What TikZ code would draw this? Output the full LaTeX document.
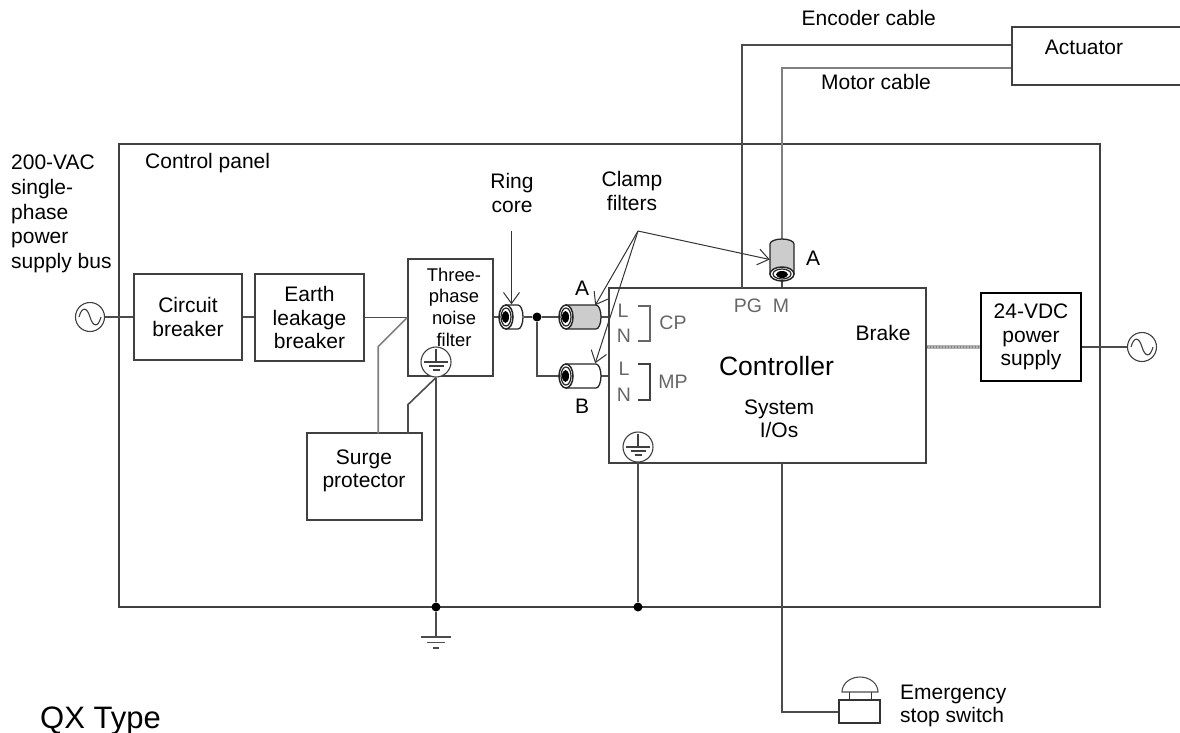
\documentclass[tikz,border=0pt]{standalone}
\usepackage{fontspec}
\setmainfont{Liberation Sans}
\usetikzlibrary{arrows.meta,positioning,calc}
\definecolor{wire}{gray}{0.3}
\definecolor{boxline}{gray}{0.25}
\definecolor{portgray}{gray}{0.4}
\tikzset{
  lbl/.style={inner sep=0pt, align=center, font=\fontsize{21}{23.5}\selectfont},
  lblsmall/.style={inner sep=0pt, align=center, font=\fontsize{18.4}{21.7}\selectfont},
  port/.style={inner sep=0pt, text=portgray, font=\fontsize{19.5}{22}\selectfont},
  box/.style={draw=boxline, line width=1.5pt, inner sep=0pt},
  slot/.style={inner sep=0pt, minimum width=#1, minimum height=25pt},
  wirestyle/.style={draw=wire, line width=1.6pt},
  leader/.style={draw=black!80, line width=1pt, -{Straight Barb[length=11pt,width=16pt]}},
  dotnode/.style={circle, fill=black, inner sep=0pt, minimum size=9pt},
  roundmark/.style={circle, draw=black!75, line width=1.1pt, fill=white, inner sep=0pt, minimum size=#1},
  pics/core/.style n args={2}{code={
    \draw[draw=black!85, line width=1.3pt, fill=#2] (0,-12) -- (#1-5,-12) arc (-90:90:5 and 12) -- (0,12) -- cycle;
    \draw[draw=black!85, line width=1.5pt, fill=white] (0,0) ellipse (7 and 12);
    \draw[draw=black!85, line width=1.2pt, fill=white] (0,0) ellipse (5 and 9);
    \fill[black] (-0.5,0) ellipse (3.5 and 6);
  }},
  pics/acwave/.style={code={
    \draw[black!75, line width=1.1pt] (-11,0) .. controls (-8,-11) and (-3,-10) .. (0,0) .. controls (3,10) and (8,11) .. (11,0);
  }},
  pics/earthmark/.style={code={
    \draw[black!75, line width=1.1pt] (0,-13) -- (0,0);
    \draw[black!75, line width=1.1pt] (-12,0) -- (12,0) (-7.5,4) -- (7.5,4) (-3.5,8) -- (3.5,8);
  }},
}
\begin{document}
\begin{tikzpicture}[x=1pt,y=-1pt]
  \useasboundingbox (0,0) rectangle (1180,732);
  % Panel and boxes
  \node[box, minimum width=981pt, minimum height=463pt] (panel) at (609.5,375.5) {};
  \node[box, minimum width=108pt, minimum height=86pt, lbl] (breaker) at (188,317) {Circuit\\breaker};
  \node[box, minimum width=109pt, minimum height=87pt, lbl] (leakage) at (309.5,317.5) {Earth\\leakage\\breaker};
  \node[box, minimum width=85pt, minimum height=117pt] (filter) at (450.5,317.5) {};
  \node[box, minimum width=115pt, minimum height=87pt] (surge) at (364.5,476.5) {};
  \node[box, minimum width=317pt, minimum height=175pt] (ctrl) at (767.5,375.5) {};
  \node[draw=black, line width=2pt, inner sep=0pt, minimum width=100pt, minimum height=88pt, lbl] (supply) at (1031,337) {24-VDC\\power\\supply};
  \node[lblsmall] (filtertext) at (454,307) {Three-\\phase\\noise\\filter};
  \node[lbl] (surgetext) at (364,471) {Surge\\protector};
  % Sources and earth marks
  \node[roundmark=29pt] (acleft) at (90,317) {};
  \node[roundmark=29pt] (acright) at (1142,347) {};
  \pic at (acleft) {acwave};
  \pic at (acright) {acwave};
  \node[roundmark=30pt] (earthfilter) at (436,362) {};
  \node[roundmark=30pt] (earthctrl) at (638,447) {};
  \pic at (earthfilter) {earthmark};
  \pic at (earthctrl) {earthmark};
  % Core slots, the cores are drawn on top
  \node[slot=24pt] (ring) at (511.5,317) {};
  \node[slot=42pt] (clampA) at (580,317) {};
  \node[slot=42pt] (clampB) at (580,376) {};
  \node[inner sep=0pt, minimum width=24pt, minimum height=41pt] (clampM) at (782,259.5) {};
  \node[dotnode] (jring) at (537,317) {};
  \node[dotnode] (jleft) at (436,607) {};
  \node[dotnode] (jright) at (638,607) {};
  % Wiring
  \coordinate (filterin) at (leakage.east -| filter.west);
  \coordinate (gndtop) at (436,637);
  \coordinate (pgport) at (742,288);
  \coordinate (encoderend) at (1012,45);
  \coordinate (motorend) at (1012,68);
  \coordinate (sysport) at (782,463);
  \coordinate (stopin) at (839,712);
  \draw[wirestyle] (acleft.east) -- (acleft.east -| breaker.west);
  \draw[wirestyle] (breaker.east) -- (breaker.east -| leakage.west);
  \draw[wirestyle] (leakage.east) -- (filterin);
  \draw[wirestyle, gray] (filterin) -- ++(-29,29) -- ++(0,87);
  \draw[wirestyle] (earthfilter.south) -- ++(-28,27) -- ++(0,29);
  \draw[wirestyle] (earthfilter.south) -- (jleft);
  \draw[wirestyle] (jleft) -- (gndtop);
  \draw[wirestyle] (earthctrl.south) -- (jright);
  \draw[wirestyle] (ring.west -| filter.east) -- (ring.west);
  \draw[wirestyle] (ring.east) -- (jring) -- (clampA.west);
  \draw[wirestyle] (jring) |- (clampB.west);
  \draw[wirestyle] (clampA.east) -- (clampA.east -| ctrl.west);
  \draw[wirestyle] (clampB.east) -- (clampB.east -| ctrl.west);
  \draw[wirestyle] (clampM.south) -- (clampM.south |- ctrl.north);
  \draw[wirestyle, gray] (clampM.north) |- (motorend);
  \draw[wirestyle] (pgport) |- (encoderend);
  \draw[line width=4pt, gray!60] (ctrl.east |- acright) -- (acright -| supply.west);
  \draw[line width=2pt, gray, dash pattern=on 1.5pt off 1.5pt] (ctrl.east |- acright) -- (acright -| supply.west);
  \draw[wirestyle] (acright -| supply.east) -- (acright.west);
  \draw[wirestyle] (sysport) |- (stopin);
  % Cores
  \pic at (506,317) {core={17}{white}};
  \pic at (566,317) {core={35}{gray!40}};
  \pic at (566,376) {core={35}{white}};
  \pic[rotate=90] at (782,274) {core={35}{gray!40}};
  % Ground
  \draw[wirestyle, line width=2pt] (421,637) -- (451,637);
  \draw[wirestyle] (427,642.5) -- (445,642.5);
  \draw[wirestyle] (433,648) -- (439,648);
  % Actuator
  \draw[box] (1180,27) -- (1012,27) -- (1012,85) -- (1180,85);
  \node[lbl] (actuator) at (1084,47) {Actuator};
  % Emergency stop switch
  \node[box, draw=black!80, minimum width=41pt, minimum height=23pt] (stop) at (859.5,711.5) {};
  \draw[black!80, line width=1.3pt] (849.5,700) -- (849.5,692) (871.5,700) -- (871.5,692);
  \draw[black!70, line width=1.1pt] (842,692) -- (878,692) arc (0:-180:18 and 15) -- cycle;
  % Clamp leaders
  \coordinate (ringfrom) at (511.5,231);
  \coordinate (clampfrom) at (638,231);
  \draw[leader] (ringfrom) -- (ring.north);
  \draw[leader] (clampfrom) -- ([xshift=-6pt,yshift=-1pt]clampA.north east);
  \draw[leader] (clampfrom) -- ([xshift=-6pt]clampB.north east);
  \draw[leader] (clampfrom) -- (clampM.west);
  % Labels
  \node[lbl, align=left, anchor=west, font=\fontsize{21}{24.6}\selectfont] (buslabel) at (11,214) {200-VAC\\single-\\phase\\power\\supply bus};
  \node[lbl, anchor=west] (panellabel) at (145,163) {Control panel};
  \node[lbl, anchor=west] (encoderlabel) at (801.5,18) {Encoder cable};
  \node[lbl, anchor=west] (motorlabel) at (821,82) {Motor cable};
  \node[lbl] (ringlabel) at (512,193) {Ring\\core};
  \node[lbl] (clamplabel) at (632,191) {Clamp\\filters};
  \node[lbl] (labelA) at (582,288) {A};
  \node[lbl] (labelB) at (582,406) {B};
  \node[lbl] (labelM) at (813,258) {A};
  \node[port] (pg) at (748,306) {PG};
  \node[port] (m) at (781,306) {M};
  \node[port] (l1) at (623,311) {L};
  \node[port] (n1) at (624,336) {N};
  \node[port] (l2) at (624,369) {L};
  \node[port] (n2) at (624,395) {N};
  \node[port] (cp) at (673,323) {CP};
  \node[port] (mp) at (673,382) {MP};
  \draw[portgray, line width=1.2pt] (638,306) -- (650,306) -- (650,341) -- (638,341);
  \draw[boxline, line width=1.2pt] (638,364) -- (650,364) -- (650,400) -- (638,400);
  \node[inner sep=0pt, font=\fontsize{26.5}{30}\selectfont] (ctrllabel) at (776.5,366) {Controller};
  \node[lbl] (iolabel) at (779,419) {System\\I/Os};
  \node[lbl] (brakelabel) at (883,333) {Brake};
  \node[lbl, align=left, anchor=west] (stoplabel) at (900,706) {Emergency\\stop switch};
  \node[inner sep=0pt, anchor=base west, font=\fontsize{31}{34}\selectfont] (typelabel) at (40,728) {QX Type};
\end{tikzpicture}
\end{document}
